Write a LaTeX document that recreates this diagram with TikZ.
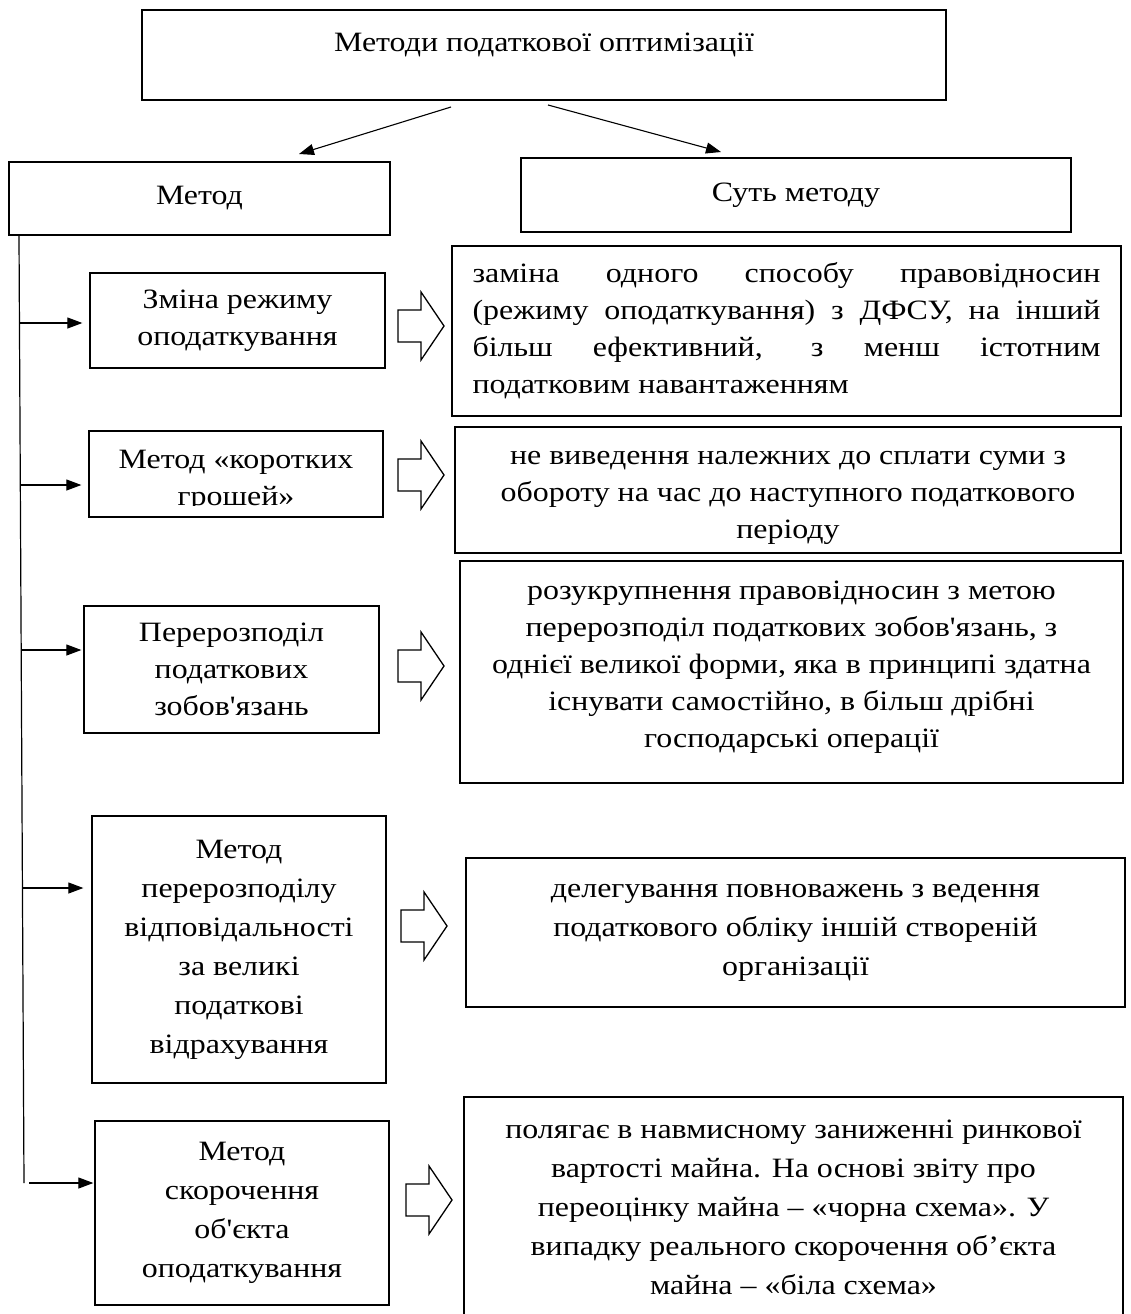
\documentclass[tikz,border=0pt]{standalone}
\usepackage{fontspec}
\setmainfont{Liberation Serif}[Ligatures=TeXOff, FakeStretch=1.14]
\usetikzlibrary{arrows.meta}
\begin{document}
\begin{tikzpicture}[x=1pt,y=-1pt,
  box/.style={draw, line width=1.3pt, inner sep=0pt, align=center,
              font=\fontsize{28}{37}\selectfont},
  bigbox/.style={box, font=\fontsize{28}{39}\selectfont},
  txt/.style={inner sep=0pt, align=center, font=\fontsize{28}{37}\selectfont},
  conn/.style={line width=1.1pt, -{Triangle[length=15pt,width=11pt]}},
  spine/.style={line width=1.2pt},
  hollow/.pic={\draw[line width=1.3pt, line join=miter]
      (0,-16) -- (23,-16) -- (23,-34) -- (46,0) -- (23,34) -- (23,16) -- (0,16) -- cycle;}
]
\useasboundingbox (0,0) rectangle (1131,1314);
\clip (0,0) rectangle (1131,1314);

% top
\node[box, minimum width=804, minimum height=90] (top) at (544,55) {};
\node[txt] (toptext) at (544,45) {Методи податкової оптимізації};

\node[box, minimum width=381, minimum height=73] (metod) at (199.5,198.5) {Метод};
\node[box, minimum width=550, minimum height=74] (sut) at (796,195) {Суть методу};

\coordinate (a1s) at (451,107);
\coordinate (a1e) at (299,154);
\coordinate (a2s) at (548,105);
\coordinate (a2e) at (721,152);
\draw[conn] (a1s) -- (a1e);
\draw[conn] (a2s) -- (a2e);

% spine
\coordinate (sp0) at (19,236);
\coordinate (sp1) at (24,1183);
\draw[spine] (sp0) -- (sp1);

% left boxes
\node[box, minimum width=295, minimum height=95] (m1) at (237.5,320.5) {Зміна режиму\\оподаткування};
\node[box, minimum width=294, minimum height=86] (m2) at (236,474) {};
\begin{scope}
  \clip (89,431) rectangle (383,505);
  \node[txt] (m2t) at (236,481) {Метод «коротких\\грошей»};
\end{scope}
\node[box, minimum width=295, minimum height=127] (m3) at (231.5,669.5) {Перерозподіл\\податкових\\зобов'язань};
\node[bigbox, minimum width=294, minimum height=267] (m4) at (239,949.5) {Метод\\перерозподілу\\відповідальності\\за великі\\податкові\\відрахування};
\node[bigbox, minimum width=294, minimum height=184] (m5) at (242,1213) {Метод\\скорочення\\об'єкта\\оподаткування};

% branches
\coordinate (b1) at (19.5,323);
\coordinate (b2) at (20.3,485);
\coordinate (b3) at (21.2,650);
\coordinate (b4) at (22.4,888);
\coordinate (b5) at (29,1183);
\draw[conn, shorten >=7pt] (b1) -- (b1 -| m1.west);
\draw[conn, shorten >=7pt] (b2) -- (b2 -| m2.west);
\draw[conn, shorten >=2pt] (b3) -- (b3 -| m3.west);
\draw[conn, shorten >=8pt] (b4) -- (b4 -| m4.west);
\draw[conn, shorten >=1pt] (b5) -- (b5 -| m5.west);

% hollow arrows
\pic (h1) at (398,326) {hollow};
\pic (h2) at (398,475) {hollow};
\pic (h3) at (398,666) {hollow};
\pic (h4) at (401,926) {hollow};
\pic (h5) at (406,1200) {hollow};

% right boxes
\node[box, minimum width=669, minimum height=170, text width=628, align=justify] (r1) at (786.5,331)
  {заміна одного способу правовідносин\linebreak (режиму оподаткування) з ДФСУ, на інший\linebreak більш ефективний, з менш істотним\linebreak податковим навантаженням};
\node[box, minimum width=666, minimum height=126] (r2) at (788,490) {};
\begin{scope}
  \clip (455,427) rectangle (1121,545);
  \node[txt] (r2t) at (788,498) {не виведення належних до сплати суми з\\обороту на час до наступного податкового\\періоду};
\end{scope}
\node[box, minimum width=663, minimum height=222] (r3) at (791.5,672) {};
\node[txt] (r3t) at (791.5,667.5) {розукрупнення правовідносин з метою\\перерозподіл податкових зобов'язань, з\\однієї великої форми, яка в принципі здатна\\існувати самостійно, в більш дрібні\\господарські операції};
\node[bigbox, minimum width=659, minimum height=149] (r4) at (795.5,932.5) {делегування повноважень з ведення\\податкового обліку іншій створеній\\організації};
\node[bigbox, minimum width=659, minimum height=221] (r5) at (793.5,1207.5) {полягає в навмисному заниженні ринкової\\вартості майна. На основі звіту про\\переоцінку майна – «чорна схема». У\\випадку реального скорочення об’єкта\\майна – «біла схема»};
\end{tikzpicture}
\end{document}
